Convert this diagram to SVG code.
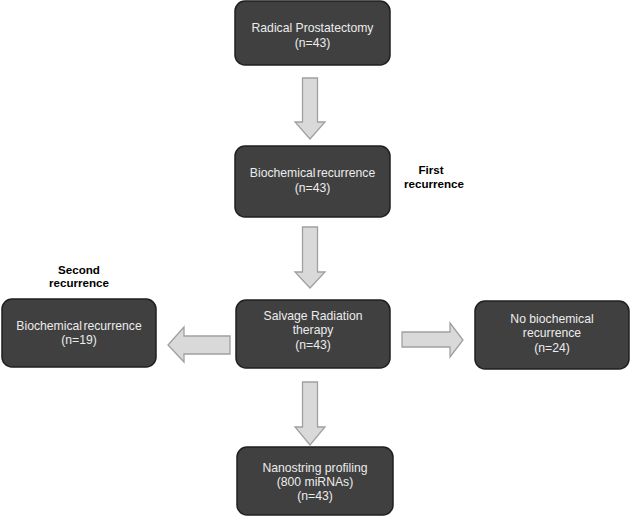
<svg xmlns="http://www.w3.org/2000/svg" width="631" height="517" viewBox="0 0 631 517">
<style>
.box{fill:#404040;stroke:#1f1f1f;stroke-width:1.5}
.t{font-family:"Liberation Sans",Arial,sans-serif;font-size:12.2px;fill:#ececec;text-anchor:middle}
.lbl{font-family:"Liberation Sans",Arial,sans-serif;font-size:11.6px;font-weight:bold;fill:#000;text-anchor:middle}
.arr{fill:#d9d9d9;stroke:#a0a0a0;stroke-width:1.3}
</style>
<rect width="631" height="517" fill="#fff"/>
<g id="connectors">
<path class="arr" d="M302.5,78 H317.5 V122 H325 L310,139 L295,122 H302.5 Z"/>
<path class="arr" d="M302.5,227 H317.5 V272 H325 L310,288 L295,272 H302.5 Z"/>
<path class="arr" d="M302.5,382 H317.5 V427 H325 L310,445 L295,427 H302.5 Z"/>
<path class="arr" d="M230,336 V354 H184 V362 L168,345 L184,327 V336 Z"/>
<path class="arr" d="M402,332 V347 H450 V357 L463,340 L450,323 V332 Z"/>
</g>
<g id="n1"><rect class="box" x="235" y="1" width="155" height="64" rx="10"/>
<text class="t" x="312.5" y="32">Radical Prostatectomy</text><text class="t" x="312.5" y="47">(n=43)</text></g>
<g id="n2"><rect class="box" x="235" y="146" width="155" height="71" rx="10"/>
<text class="t" x="312.5" y="177" word-spacing="-2">Biochemical recurrence</text><text class="t" x="312.5" y="192">(n=43)</text></g>
<g id="l1"><text class="lbl" x="431" y="174">First</text><text class="lbl" x="434" y="188">recurrence</text></g>
<g id="n3"><rect class="box" x="236" y="300" width="154" height="68" rx="10"/>
<text class="t" x="313" y="320">Salvage Radiation</text><text class="t" x="313" y="334">therapy</text><text class="t" x="313" y="349">(n=43)</text></g>
<g id="l2"><text class="lbl" x="79" y="274">Second</text><text class="lbl" x="79" y="287">recurrence</text></g>
<g id="n4"><rect class="box" x="2" y="299" width="154" height="68" rx="10"/>
<text class="t" x="79" y="330" word-spacing="-2">Biochemical recurrence</text><text class="t" x="79" y="344">(n=19)</text></g>
<g id="n5"><rect class="box" x="475" y="301" width="154" height="68" rx="10"/>
<text class="t" x="552" y="323">No biochemical</text><text class="t" x="552" y="337">recurrence</text><text class="t" x="552" y="352">(n=24)</text></g>
<g id="n6"><rect class="box" x="237" y="447" width="156" height="68" rx="10"/>
<text class="t" x="315" y="472">Nanostring profiling</text><text class="t" x="315" y="486">(800 miRNAs)</text><text class="t" x="315" y="500">(n=43)</text></g>
</svg>
